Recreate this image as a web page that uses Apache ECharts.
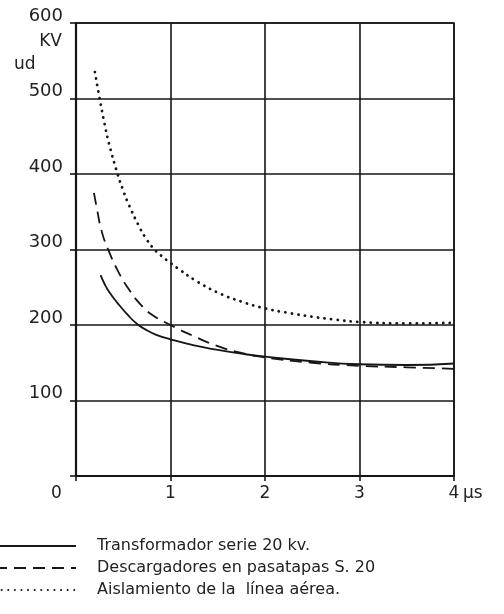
<!DOCTYPE html>
<html>
<head>
<meta charset="utf-8">
<script src="https://cdn.jsdelivr.net/npm/echarts@6/dist/echarts.min.js"></script>
<style>
html,body{margin:0;padding:0;background:#fff;}
#c{width:504px;height:614px;}
</style>
</head>
<body>
<div id="c"></div>
<script>
// Data
const seriesNames = [
  'Transformador serie 20 kv.',
  'Descargadores en pasatapas S. 20',
  'Aislamiento de la  línea aérea.'
];
const transformador = [[0.26,266],[0.3,255],[0.35,244],[0.44,229],[0.55,213],[0.65,201],[0.75,193],[0.85,187],[1,181],[1.25,173],[1.5,167],[1.75,162],[2,158],[2.5,152],[3,148],[3.5,147],[4,149]];
const descargadores = [[0.19,375],[0.22,355],[0.27,325],[0.34,300],[0.45,270],[0.55,249],[0.67,229],[0.8,214],[1,200],[1.25,185],[1.5,172],[1.75,163],[2,157],[2.5,150],[3,146],[3.5,144],[4,142]];
const aislamiento = [[0.2,535],[0.25,500],[0.3,468],[0.35,440],[0.44,400],[0.5,378],[0.55,362],[0.67,330],[0.75,313],[0.83,300],[0.9,292],[1,282],[1.1,273],[1.25,260],[1.5,243],[1.75,231],[2,222],[2.25,216],[2.5,211],[2.75,207],[3,204],[3.5,202],[4,203]];
const yTicks = [0,100,200,300,400,500,600];
const xTicks = [0,1,2,3,4];
const yUnit = ['KV','ud'];
const xUnit = 'μs';

const ink = '#161616';
const font = 'DejaVu Sans';

const chart = echarts.init(document.getElementById('c'), null, {renderer:'canvas'});
chart.setOption({
  backgroundColor:'#fff',
  animation:false,
  grid:{left:76,right:50,top:23,bottom:138,show:true,borderColor:ink,borderWidth:1.6,backgroundColor:'transparent'},
  xAxis:{
    type:'value',min:xTicks[0],max:xTicks[xTicks.length-1],interval:1,
    axisLine:{show:true,lineStyle:{color:ink,width:2.2}},
    axisTick:{show:true,length:5,lineStyle:{color:ink,width:1.6}},
    splitLine:{show:true,lineStyle:{color:ink,width:1.6}},
    axisLabel:{
      color:'#222',fontFamily:font,fontSize:17,margin:9,
      formatter:v=>v===xTicks[0]?'':String(v)
    }
  },
  yAxis:{
    type:'value',min:yTicks[0],max:yTicks[yTicks.length-1],interval:100,
    axisLine:{show:true,lineStyle:{color:ink,width:2.2}},
    axisTick:{show:true,length:6,lineStyle:{color:ink,width:1.6}},
    splitLine:{show:true,lineStyle:{color:ink,width:1.6}},
    axisLabel:{
      color:'#222',fontFamily:font,fontSize:18,margin:13,
      verticalAlign:'bottom',lineHeight:14,
      formatter:v=>v===yTicks[0]?'':String(v)
    }
  },
  legend:{
    orient:'vertical',left:-11,top:533,itemWidth:81,itemHeight:14,itemGap:6,
    itemStyle:{opacity:0},
    textStyle:{color:'#222',fontFamily:font,fontSize:16,padding:[0,0,0,16]},
    data:seriesNames
  },
  graphic:[
    {type:'text',right:504-62,top:33,style:{text:yUnit[0],fill:'#222',font:'17px "DejaVu Sans"',textAlign:'right'}},
    {type:'text',left:14,top:56,style:{text:yUnit[1],fill:'#222',font:'17px "DejaVu Sans"'}},
    {type:'text',left:51,top:485,style:{text:String(xTicks[0]),fill:'#222',font:'17px "DejaVu Sans"'}},
    {type:'text',left:463,top:485,style:{text:xUnit,fill:'#222',font:'17px "DejaVu Sans"'}}
  ],
  series:[
    {name:seriesNames[0],type:'line',data:transformador,smooth:0.5,symbol:'none',
     itemStyle:{color:ink},lineStyle:{color:ink,width:1.8}},
    {name:seriesNames[1],type:'line',data:descargadores,smooth:0.5,symbol:'none',
     itemStyle:{color:ink},lineStyle:{color:ink,width:1.8,type:[12,7]}},
    {name:seriesNames[2],type:'line',data:aislamiento,smooth:0.5,symbol:'none',
     itemStyle:{color:ink},lineStyle:{color:ink,width:2.8,type:[0.1,6.5],cap:'round'}}
  ]
});
</script>
</body>
</html>
